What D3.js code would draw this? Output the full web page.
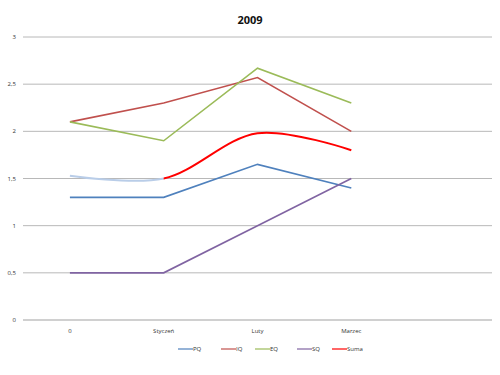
<!DOCTYPE html>
<html>
<head>
<meta charset="utf-8">
<script src="https://cdn.jsdelivr.net/npm/d3@7"></script>
<style>
  body { margin: 0; background: #fff; }
  text { font-family: "Open Sans", "DejaVu Sans", sans-serif; }
</style>
</head>
<body>
<svg width="500" height="375"></svg>
<script>
const categories = ['0', 'Styczeń', 'Luty', 'Marzec', ''];
const yTicks = [0, 0.5, 1, 1.5, 2, 2.5, 3];

const pq   = [1.3, 1.3, 1.65, 1.4];
const iq   = [2.1, 2.3, 2.57, 2.0];
const eq   = [2.1, 1.9, 2.67, 2.3];
const sq   = [0.5, 0.5, 1.0, 1.5];
const suma = [1.53, 1.5, 1.98, 1.8];

const seriesNames = ['PQ', 'IQ', 'EQ', 'SQ', 'Suma'];
const seriesColors = ['#4F81BD', '#C0504D', '#9BBB59', '#8064A2', '#FF0000'];

const svg = d3.select('svg');
const margin = { top: 37, left: 23, right: 8, bottom: 55 };
const innerWidth = 500 - margin.left - margin.right;
const innerHeight = 375 - margin.top - margin.bottom;

const g = svg.append('g')
  .attr('transform', `translate(${margin.left},${margin.top})`);

const xScale = d3.scaleBand()
  .domain(categories)
  .range([0, innerWidth]);
const xPos = i => xScale(categories[i]) + xScale.bandwidth() / 2;

const yScale = d3.scaleLinear()
  .domain([0, 3])
  .range([innerHeight, 0]);

// gridlines
g.selectAll('.grid')
  .data(yTicks.filter(d => d > 0))
  .join('line')
  .attr('x1', 0).attr('x2', innerWidth)
  .attr('y1', d => yScale(d)).attr('y2', d => yScale(d))
  .attr('stroke', '#B8B8B8')
  .attr('stroke-width', 1);

// category axis line
g.append('line')
  .attr('x1', 0).attr('x2', innerWidth)
  .attr('y1', yScale(0)).attr('y2', yScale(0))
  .attr('stroke', '#D0D0D0')
  .attr('stroke-width', 2);

// y labels
g.selectAll('.ylab')
  .data(yTicks)
  .join('text')
  .attr('x', -7)
  .attr('y', d => yScale(d) + 2)
  .attr('text-anchor', 'end')
  .attr('font-size', 6)
  .attr('fill', '#333')
  .text(d => String(d).replace('.', ','));

// x labels
g.selectAll('.xlab')
  .data(categories)
  .join('text')
  .attr('x', (d, i) => xPos(i))
  .attr('y', innerHeight + 13)
  .attr('text-anchor', 'middle')
  .attr('font-size', 6)
  .attr('fill', '#333')
  .text(d => d);

// title
svg.append('text')
  .attr('x', 250)
  .attr('y', 24)
  .attr('text-anchor', 'middle')
  .attr('font-size', 11)
  .attr('font-weight', 'bold')
  .attr('fill', '#111')
  .text('2009');

const straight = d3.line()
  .x((d, i) => xPos(i))
  .y(d => yScale(d));

[pq, iq, eq, sq].forEach((vals, k) => {
  g.append('path')
    .attr('d', straight(vals))
    .attr('fill', 'none')
    .attr('stroke', seriesColors[k])
    .attr('stroke-width', 1.6);
});

// Suma: smooth curve, first segment pale blue (clipped halves of one curve)
const smooth = d3.line()
  .x((d, i) => xPos(i))
  .y(d => yScale(d))
  .curve(d3.curveCatmullRom.alpha(0.5));

const defs = svg.append('defs');
defs.append('clipPath').attr('id', 'clipA')
  .append('rect')
  .attr('x', -10).attr('y', -10)
  .attr('width', xPos(1) + 10).attr('height', innerHeight + 20);
defs.append('clipPath').attr('id', 'clipB')
  .append('rect')
  .attr('x', xPos(1)).attr('y', -10)
  .attr('width', innerWidth).attr('height', innerHeight + 20);

g.append('path')
  .attr('d', smooth(suma))
  .attr('clip-path', 'url(#clipA)')
  .attr('fill', 'none')
  .attr('stroke', '#B9CDE8')
  .attr('stroke-width', 2);

g.append('path')
  .attr('d', smooth(suma))
  .attr('clip-path', 'url(#clipB)')
  .attr('fill', 'none')
  .attr('stroke', seriesColors[4])
  .attr('stroke-width', 2);

// legend
const legendX = [178, 221, 255, 297, 332];
const legend = svg.append('g');
seriesNames.forEach((name, k) => {
  const lg = legend.append('g').attr('transform', `translate(${legendX[k]},349)`);
  lg.append('line')
    .attr('x1', 0).attr('x2', 15)
    .attr('stroke', seriesColors[k])
    .attr('stroke-opacity', 0.6)
    .attr('stroke-width', 2);
  lg.append('text')
    .attr('x', 15)
    .attr('y', 2)
    .attr('font-size', 6)
    .attr('fill', '#333')
    .text(name);
});
</script>
</body>
</html>
